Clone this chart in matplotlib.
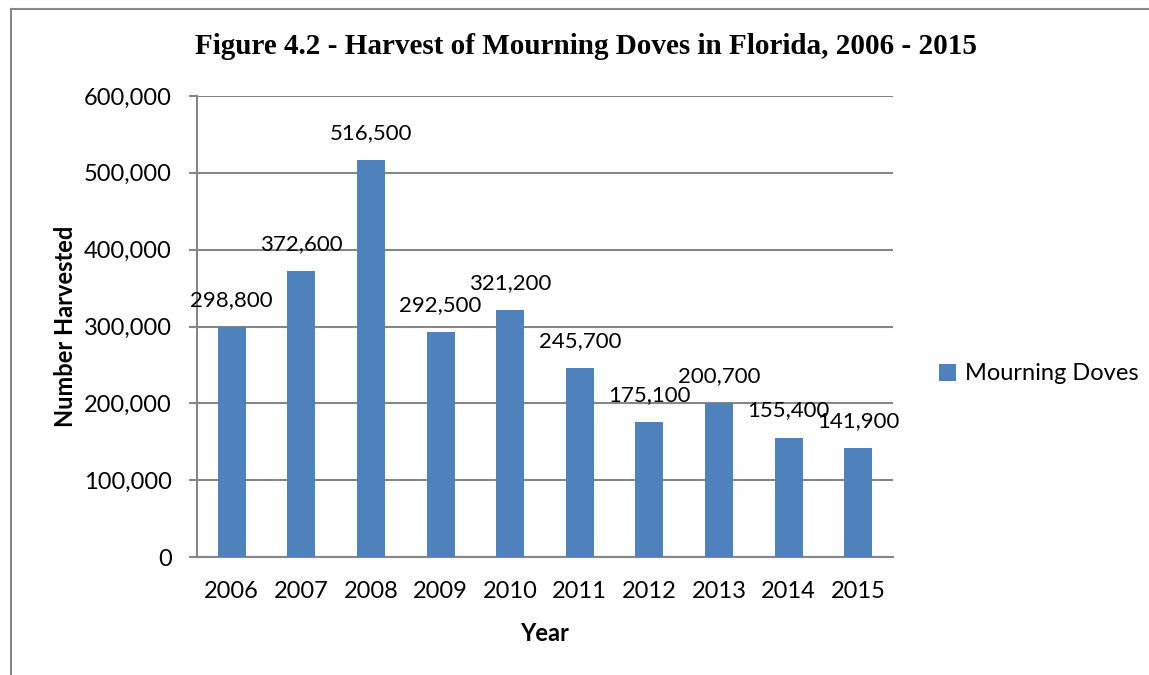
import matplotlib.pyplot as plt
from matplotlib.lines import Line2D
from matplotlib.ticker import FuncFormatter

years = ['2006', '2007', '2008', '2009', '2010', '2011', '2012', '2013', '2014', '2015']
harvest = [298800, 372600, 516500, 292500, 321200, 245700, 175100, 200700, 155400, 141900]
series_name = 'Mourning Doves'

bar_color = '#4F81BD'
grid_color = '#868686'
sans = ['Lato', 'DejaVu Sans']
fs = 17

fig = plt.figure(figsize=(11.49, 6.75), dpi=100)
W, H = 1149, 675
ax = fig.add_axes([197 / W, 1 - 557 / H, (893 - 197) / W, (557 - 96) / H])

x = range(len(years))
ax.bar(x, harvest, width=0.4, color=bar_color, label=series_name, zorder=3)
ax.set_xlim(-0.5, len(years) - 0.5)
ax.set_ylim(0, 600000)
ax.set_yticks(range(0, 600001, 100000))
ax.yaxis.set_major_formatter(FuncFormatter(lambda v, p: f'{int(v):,}'))
ax.set_xticks(list(x))
ax.set_xticklabels(years)

# data labels above bars
for xi, v in zip(x, harvest):
    ax.annotate(f'{v:,}', (xi, v), xytext=(0, 19.5), textcoords='offset points',
                ha='center', va='center', fontsize=16, family=sans, color='black')

ax.grid(axis='y', color=grid_color, linewidth=1.5, zorder=0)
for s in ['top', 'right']:
    ax.spines[s].set_visible(False)
ax.spines['left'].set_color(grid_color)
ax.spines['left'].set_linewidth(1.5)
ax.spines['bottom'].set_color(grid_color)
ax.spines['bottom'].set_linewidth(1.5)
ax.tick_params(axis='y', length=6, width=1.5, color=grid_color, pad=12)
ax.tick_params(axis='x', length=0, pad=17)
for lbl in ax.get_xticklabels() + ax.get_yticklabels():
    lbl.set_family(sans)
    lbl.set_fontsize(fs)

ax.set_ylabel('Number Harvested', family=sans, fontsize=fs, fontweight='bold', labelpad=5)
ax.set_xlabel('Year', family=sans, fontsize=fs, fontweight='bold', labelpad=15)

fig.text(586 / W, 1 - 47 / H, 'Figure 4.2 - Harvest of Mourning Doves in Florida, 2006 - 2015',
         ha='center', va='center', family=['Liberation Serif', 'DejaVu Serif'],
         fontsize=21, fontweight='bold')

leg = ax.legend(loc='center left', bbox_to_anchor=(918 / W, 1 - 374 / H),
                bbox_transform=fig.transFigure, frameon=False,
                handlelength=0.7, handleheight=0.7, handletextpad=0.4,
                prop={'family': sans, 'size': fs})

# outer frame (left and top edges visible)
fig.add_artist(Line2D([11 / W, 11 / W], [0, 1 - 9 / H], transform=fig.transFigure,
                      color='#888888', linewidth=1.5))
fig.add_artist(Line2D([11 / W, 1], [1 - 9 / H, 1 - 9 / H], transform=fig.transFigure,
                      color='#888888', linewidth=1.5))

fig.savefig('out.png', dpi=100)
